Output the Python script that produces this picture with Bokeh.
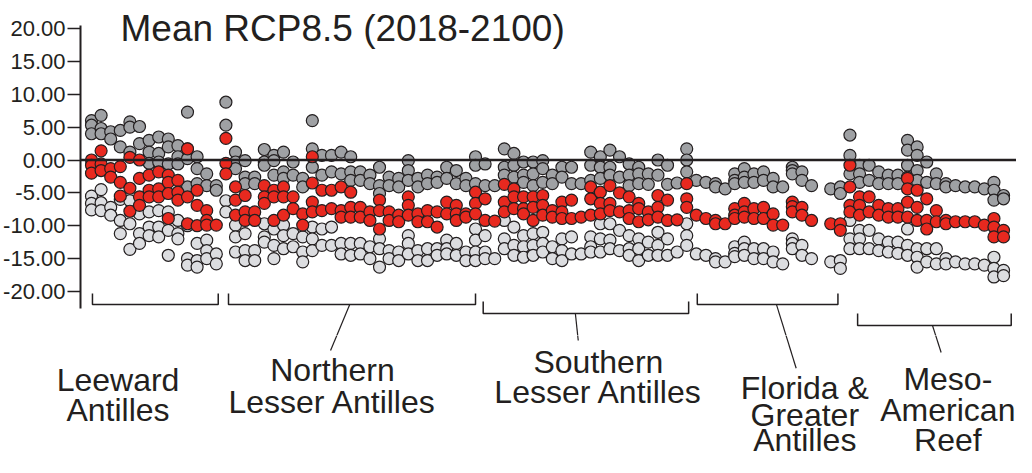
from bokeh.plotting import figure
from bokeh.layouts import column, row
from bokeh.models import Range1d, FixedTicker, PrintfTickFormatter, Span, Label
from bokeh.embed import file_html
from bokeh.resources import INLINE

title = "Mean RCP8.5 (2018-2100)"
region_names = [["Leeward", "Antilles"],
                ["Northern", "Lesser Antilles"],
                ["Southern", "Lesser Antilles"],
                ["Florida &", "Greater", "Antilles"],
                ["Meso-", "American", "Reef"]]
y_ticks = [-20, -15, -10, -5, 0, 5, 10, 15, 20]

# ---- values per site column (upper = dark grey, mean = red, lower = light grey)
leeward_upper = [[6.0, 5.3, 4.0], [6.8, 4.8, 4.0], [4.3, 3.2], [4.5, 2.0], [5.8, 5.0, 1.2],
                 [5.1, 2.5], [3.0, 1.2, -0.5], [3.5, 1.0, -0.3], [3.2, 2.0, -0.6], [2.2, 0.5, -0.6],
                 [7.3, 1.7, 0.2, -4.1], [0.5, -1.3, -3.6], [-2.1, -3.9], [-3.9, -4.6]]
leeward_mean = [[0.0, -0.8, -2.0], [1.4, -0.6, -1.6], [-1.3, -2.6], [-1.0, -3.4, -5.5], [0.4, -4.3, -7.8],
                [0.0, -2.8, -5.6, -6.9], [-2.3, -4.6, -5.6], [-1.8, -4.4, -5.6], [-2.3, -3.4, -5.1, -8.9],
                [-3.1, -4.9, -6.1], [1.7, -5.6, -9.7], [-4.6, -6.9, -10.0], [-7.7, -9.2, -9.9], [-9.9]]
leeward_lower = [[-5.5, -6.6, -7.6], [-4.5, -6.5, -7.7], [-7.2, -8.4], [-6.0, -9.2, -11.2],
                 [-6.2, -9.7, -13.6], [-8.2, -11.2, -12.7], [-7.9, -10.2, -11.5], [-7.7, -10.2, -11.7],
                 [-7.9, -10.7, -14.5], [-9.2, -11.2, -12.0], [-10.0, -15.0, -16.0], [-12.7, -15.3, -16.3],
                 [-12.2, -13.8, -15.0], [-14.3, -15.8]]

northern_upper = [[8.8, 5.3], [1.2, -0.3, -1.3], [-0.1, -2.6, -3.6], [-2.6, -3.6], [1.6, -0.3, -0.8],
                  [0.7, -0.1, -2.3], [1.2, -1.8, -2.8], [-0.3, -2.3], [-2.8, -4.1], [6.0, 1.7, -1.1],
                  [0.7, -2.3], [0.7, -1.8], [1.2, -2.1], [0.5, -1.8, -3.1], [-1.8, -3.1], [-2.3, -3.6],
                  [-1.1, -3.9, -5.1], [-2.6, -3.9], [-2.8, -4.1], [-0.1, -1.6, -3.1], [-2.8, -4.1],
                  [-2.3, -3.6], [-2.6, -3.4], [-1.1, -2.8], [-1.6, -3.6], [-2.8, -3.9], [0.5, -0.8, -3.6]]
northern_mean = [[3.3, -0.5, -2.1], [-4.1, -6.1, -8.4], [-5.4, -7.9, -9.2], [-7.9, -9.2], [-3.9, -5.6, -6.6],
                 [-4.6, -5.6, -9.2], [-4.1, -5.6, -8.4], [-5.6, -7.4], [-8.2, -9.9], [0.5, -3.5, -6.4, -7.9],
                 [-4.6, -7.7], [-4.6, -7.4], [-4.1, -7.7, -8.7], [-4.9, -7.2, -8.7], [-7.2, -8.7], [-7.9, -9.2],
                 [-6.1, -7.7, -10.5], [-7.9, -9.2], [-8.4, -9.4], [-5.6, -6.9, -8.4], [-8.2, -9.4],
                 [-7.7, -9.4], [-7.9, -10.2], [-6.4, -8.2], [-6.9, -8.2, -9.2], [-8.2, -8.7], [-4.9, -6.6, -8.2]]
northern_lower = [[-6.2, -7.9], [-9.9, -11.7, -14.0], [-11.2, -13.8, -15.3], [-13.8, -15.3], [-9.7, -11.7, -12.5],
                  [-10.5, -13.0, -15.0], [-9.9, -11.5, -13.5], [-11.2, -13.2], [-11.7, -14.0, -15.5],
                  [-10.2, -12.0, -13.8], [-10.5, -13.0], [-10.2, -13.0], [-12.7, -14.3], [-12.7, -14.5],
                  [-12.7, -14.3], [-13.2, -15.0], [-12.0, -13.5, -16.3], [-13.8, -15.0], [-14.0, -15.3],
                  [-11.5, -12.7, -14.3], [-13.8, -15.3], [-13.5, -15.3], [-13.5, -14.5], [-12.2, -13.5, -14.3],
                  [-12.7, -14.5], [-14.0, -15.3], [-10.5, -12.2, -14.0, -15.3]]

southern_upper = [[-0.6, -3.9], [-3.9], [1.7, -1.1, -2.3], [1.0, -0.8, -2.6], [-0.3, -2.3, -3.4],
                  [-0.3, -2.1, -3.9], [-0.1, -1.3, -3.4], [-2.3, -3.6], [-1.1, -2.6], [-1.1, -3.6], [-3.6],
                  [1.2, -0.8, -3.1], [0.5, -1.1, -2.8], [1.5, -1.1, -2.3], [0.5, -2.6], [-0.6, -2.3, -3.9],
                  [-1.1, -2.1, -3.6], [-2.1, -3.7], [0.0, -2.3], [-0.8, -3.7], [-3.5], [1.7, 0.0, -1.8]]
southern_mean = [[-5.9, -9.2], [-9.3], [-3.7, -6.4, -7.9], [-4.4, -5.6, -7.4], [-5.6, -7.4, -8.2],
                 [-5.6, -7.2, -9.2], [-5.4, -6.9, -8.4], [-7.7, -8.7], [-6.4, -7.9, -8.9], [-6.1, -8.9], [-8.7],
                 [-4.1, -5.9, -8.4], [-4.9, -6.6, -8.2], [-3.9, -6.6, -7.7], [-5.0, -7.9], [-5.6, -7.7, -8.9],
                 [-6.6, -7.4, -9.4], [-7.9, -9.1], [-5.4, -7.2, -8.7], [-6.1, -9.2], [-9.1], [-3.6, -5.9, -7.2]]
southern_lower = [[-11.5, -14.0, -15.0], [-15.0], [-9.2, -12.0, -13.5], [-10.2, -13.0, -14.5],
                  [-11.5, -13.2, -14.8], [-11.2, -13.0, -14.5], [-11.0, -12.7, -14.0], [-13.2, -15.0],
                  [-12.0, -13.8, -15.3], [-11.7, -14.3], [-14.3], [-11.7, -13.2, -14.0], [-9.7, -12.0, -14.0],
                  [-9.7, -12.2, -13.5], [-10.7, -13.8], [-11.5, -13.5, -14.5], [-12.0, -13.5, -15.3],
                  [-12.5, -14.5], [-11.0, -13.0, -14.5], [-12.0, -14.5], [-14.0], [-9.7, -11.5, -13.0]]

florida_upper = [[-3.1], [-3.4], [-3.6, -4.1], [-4.4], [-2.1, -3.1, -3.6], [-1.3, -2.6, -3.4], [-2.1, -3.4],
                 [-1.8, -3.1], [-2.8, -4.1], [-4.1], [-1.1, -1.6, -2.1], [-1.8, -3.1], [-3.9], [], [-4.4],
                 [-4.1, -5.1]]
florida_mean = [[-8.4], [-8.9], [-9.2, -9.7], [-9.7], [-7.4, -8.4, -8.9], [-6.6, -7.9, -8.7], [-7.4, -8.9],
                [-7.2, -8.9], [-8.2, -9.9], [-9.9], [-6.4, -7.1, -7.9], [-7.2, -8.4], [-9.2], [], [-9.7],
                [-9.7, -10.7]]
florida_lower = [[-14.3], [-14.5], [-15.0, -15.5], [-15.5], [-13.2, -14.2, -14.7], [-12.5, -13.5, -14.5],
                 [-13.5, -15.0], [-13.5, -15.0], [-14.0, -15.5], [-15.8], [-12.0, -12.7, -13.5], [-13.0, -14.5],
                 [-15.0], [], [-15.5], [-15.3, -16.5]]

meso_upper = [[3.8, 0.7, -2.1], [-0.8, -2.1, -3.4], [-0.8, -3.1], [-1.8, -3.6], [-2.3, -3.6], [-2.3, -3.6],
              [3.0, 1.5, -0.8, -2.6], [2.0, 0.7, -1.6, -3.1], [-0.3, -3.4], [-2.1, -3.6], [-3.6, -4.1],
              [-3.9], [-4.1], [-4.1], [-4.4], [-3.4, -4.6, -6.1], [-5.4, -5.9]]
meso_mean = [[-0.8, -4.1, -6.9, -7.9], [-5.6, -6.9, -8.4], [-5.6, -7.9], [-6.9, -8.4], [-7.4, -8.7],
             [-7.4, -8.7], [-2.8, -4.4, -6.4, -8.7], [-4.6, -7.2, -9.2], [-5.9, -9.2, -10.5], [-7.7, -9.4],
             [-9.2, -9.7], [-9.4], [-9.4], [-9.4], [-9.9], [-8.9, -10.2, -11.7], [-10.7, -11.7]]
meso_lower = [[-9.2, -12.0, -13.5], [-10.7, -12.0, -13.5], [-10.7, -13.5], [-12.0, -13.8], [-12.5, -14.0],
              [-12.5, -14.2], [-10.5, -13.0, -14.5], [-13.5, -14.8, -16.3], [-13.5, -15.5], [-13.5, -15.8],
              [-15.0, -15.8], [-15.5], [-15.8], [-15.8], [-16.0], [-14.8, -16.5, -17.8], [-16.8, -17.6]]

upper_groups = [leeward_upper, northern_upper, southern_upper, florida_upper, meso_upper]
mean_groups = [leeward_mean, northern_mean, southern_mean, florida_mean, meso_mean]
lower_groups = [leeward_lower, northern_lower, southern_lower, florida_lower, meso_lower]


def flatten(groups):
    xs, ys = [], []
    i = 0
    for g in groups:
        for vals in g:
            for v in vals:
                xs.append(i)
                ys.append(v)
            i += 1
    return xs, ys


# column index ranges of each region
starts, ends = [], []
i = 0
for g in mean_groups:
    starts.append(i)
    i += len(g)
    ends.append(i - 1)

INK = "#231f20"
FONT = "Liberation Sans"
W = 1016
H_TOP, H_BOT = 335, 122
Y_SPLIT = -26.71           # value at the seam between the two panels
X_MAX = 96.35

# ---------------- top panel: axis, points, brackets ----------------
p = figure(width=W, height=H_TOP, output_backend="svg", toolbar_location=None,
           x_range=Range1d(-1.146, X_MAX), y_range=Range1d(Y_SPLIT, 24.28),
           x_axis_location=None, min_border_left=80, min_border_right=0,
           min_border_top=0, min_border_bottom=0)
p.grid.visible = False
p.outline_line_color = None

ax = p.yaxis[0]
ax.ticker = FixedTicker(ticks=y_ticks)
ax.formatter = PrintfTickFormatter(format="%.2f")
ax.bounds = (-22.6, 20.47)
ax.axis_line_color = INK
ax.axis_line_width = 2
ax.major_tick_line_color = INK
ax.major_tick_line_width = 1.5
ax.major_tick_out = 13
ax.major_tick_in = 0
ax.minor_tick_line_color = None
ax.major_label_text_font = FONT
ax.major_label_text_font_size = "22px"
ax.major_label_text_color = INK
ax.major_label_standoff = 2

p.add_layout(Span(location=0, dimension="width", line_color=INK, line_width=2.5))

for groups, fill in [(lower_groups, "#dcdde0"), (upper_groups, "#9fa1a4"), (mean_groups, "#e8291f")]:
    xs, ys = flatten(groups)
    p.scatter(xs, ys, size=12, fill_color=fill, line_color=INK, line_width=1.2)

p.add_layout(Label(x=3.02, y=20.0, text=title, text_font=FONT, text_font_size="37px",
                   text_color=INK, text_align="left", text_baseline="alphabetic"))

bracket_levels = [(-20.32, -22.0), (-20.32, -22.0), (-21.54, -23.36), (-20.32, -22.0), (-23.36, -25.19)]
pad_l = [0.1, 0.27, -0.2, 0.1, 0.8]
pad_r = [0.2, 0.0, 0.2, -0.25, 0.8]
bx, by = [], []
for s, e, (top, bot), pl, pr in zip(starts, ends, bracket_levels, pad_l, pad_r):
    x0, x1 = s + pl, e + pr
    bx.append([x0, x0, x1, x1])
    by.append([top, bot, bot, top])
p.multi_line(bx, by, line_color=INK, line_width=1.5)

lead_x0 = [26.9, 50.4, 71.35, 87.6]
lead_y0 = [-22.0, -23.36, -22.0, -25.19]
lead_x1 = [24.9, 50.7, 73.4, 88.5]
lead_y1 = [-29.0, -27.47, -31.7, -29.3]
p.segment(lead_x0, lead_y0, lead_x1, lead_y1, line_color=INK, line_width=1.2)

# ---------------- bottom panel: region names ----------------
q = figure(width=W, height=H_BOT, output_backend="svg", toolbar_location=None,
           x_range=Range1d(-91 / 9.6, X_MAX), y_range=Range1d(-45.28, Y_SPLIT),
           x_axis_location=None, y_axis_location=None, min_border_left=0, min_border_right=0,
           min_border_top=0, min_border_bottom=0)
q.grid.visible = False
q.outline_line_color = None
q.segment(lead_x0, lead_y0, lead_x1, lead_y1, line_color=INK, line_width=1.2)

label_cx = [2.76, 25.1, 52.8, 74.3, 89.2]
label_y = [[-33.41, -37.98], [-31.89, -36.76], [-30.67, -35.24], [-34.63, -38.74, -42.69],
           [-33.26, -37.98, -42.69]]
for names, cx, ys_ in zip(region_names, label_cx, label_y):
    for nm, yy in zip(names, ys_):
        q.add_layout(Label(x=cx, y=yy, text=nm, text_font=FONT, text_font_size="32px",
                           text_color=INK, text_align="center", text_baseline="alphabetic"))

layout = column(p, row(q, spacing=0), spacing=0)
open("out.html", "w").write(file_html(layout, INLINE))
